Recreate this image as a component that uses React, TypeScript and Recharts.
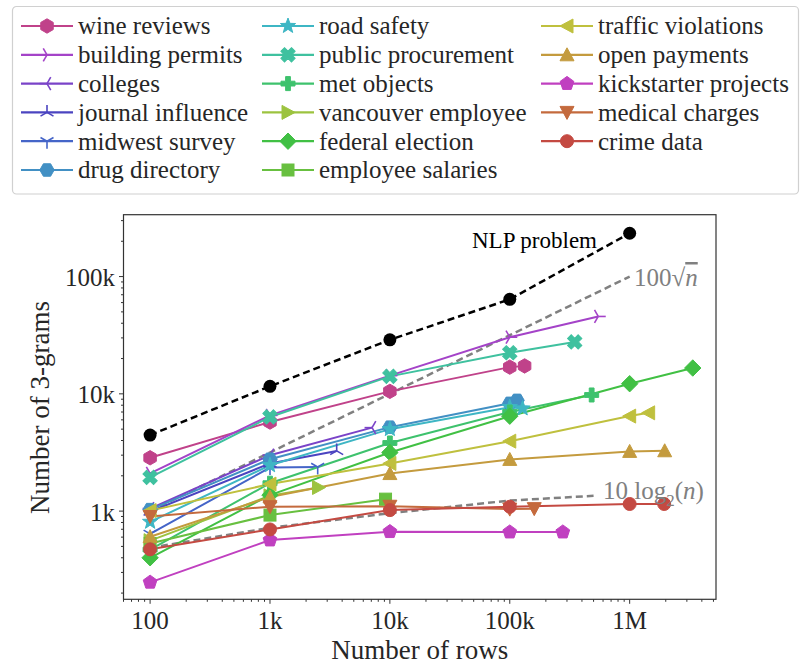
import { LineChart, Line, XAxis, YAxis } from "recharts";

type Pt = [number, number];

// --- data (rows, number of 3-grams) ---
const nlpProblem: Pt[] = [[100, 4450], [1000, 11600], [10000, 28900], [100000, 64000], [1000000, 234000]];
const sqrtGuide: Pt[] = [[100, 1000], [1000, 3160], [10000, 10000], [100000, 31600], [1000000, 100000]];
const logGuide: Pt[] = [[100, 487], [1000, 720], [10000, 960], [100000, 1230], [500000, 1350]];

const wineReviews: Pt[] = [[100, 2850], [1000, 5750], [10000, 10500], [100000, 16900], [133000, 17300]];
const buildingPermits: Pt[] = [[100, 2100], [1000, 6550], [10000, 14300], [100000, 30400], [547000, 45700]];
const colleges: Pt[] = [[100, 1050], [1000, 3000], [7100, 5150]];
const journalInfluence: Pt[] = [[100, 990], [1000, 2550], [3600, 3260]];
const midwestSurvey: Pt[] = [[100, 640], [1000, 2350], [2500, 2380]];
const drugDirectory: Pt[] = [[100, 1030], [1000, 2770], [10000, 5200], [100000, 8300], [115000, 8800]];
const roadSafety: Pt[] = [[100, 810], [1000, 2460], [10000, 5000], [100000, 7700], [128000, 7500]];
const publicProcurement: Pt[] = [[100, 1940], [1000, 6350], [10000, 14100], [100000, 22400], [348000, 27700]];
const metObjects: Pt[] = [[100, 470], [1000, 1730], [10000, 3810], [100000, 7000], [482000, 9780]];
const vancouverEmployee: Pt[] = [[100, 560], [1000, 1350], [2540, 1590]];
const federalElection: Pt[] = [[100, 400], [1000, 1370], [10000, 3160], [100000, 6450], [1000000, 12200], [3360000, 16600]];
const employeeSalaries: Pt[] = [[100, 530], [1000, 925], [9200, 1265]];
const trafficViolations: Pt[] = [[100, 1010], [1000, 1700], [10000, 2550], [100000, 3950], [1000000, 6460], [1440000, 6890]];
const openPayments: Pt[] = [[100, 605], [1000, 1320], [10000, 2090], [100000, 2760], [1000000, 3230], [1960000, 3270]];
const kickstarterProjects: Pt[] = [[100, 247], [1000, 566], [10000, 667], [100000, 662], [277000, 662]];
const medicalCharges: Pt[] = [[100, 900], [1000, 1090], [10000, 1100], [100000, 1040], [160000, 1050]];
const crimeData: Pt[] = [[100, 472], [1000, 698], [10000, 1020], [100000, 1090], [1000000, 1150], [1940000, 1150]];

const SERIES_NAMES = [
	"wine reviews", "building permits", "colleges", "journal influence", "midwest survey", "drug directory",
	"road safety", "public procurement", "met objects", "vancouver employee", "federal election", "employee salaries",
	"traffic violations", "open payments", "kickstarter projects", "medical charges", "crime data",
];
const SERIES_POINTS: Pt[][] = [
	wineReviews, buildingPermits, colleges, journalInfluence, midwestSurvey, drugDirectory,
	roadSafety, publicProcurement, metObjects, vancouverEmployee, federalElection, employeeSalaries,
	trafficViolations, openPayments, kickstarterProjects, medicalCharges, crimeData,
];

const ROW_TICKS = [100, 1000, 10000, 100000, 1000000];
const ROW_LABELS = ["100", "1k", "10k", "100k", "1M"];
const GRAM_TICKS = [1000, 10000, 100000];
const GRAM_LABELS = ["1k", "10k", "100k"];

// --- styles ---
const STYLE: Record<string, { color: string; marker: string }> = {
	"wine reviews": { color: "#c0428a", marker: "h" },
	"building permits": { color: "#a443c8", marker: "4" },
	colleges: { color: "#7a43c8", marker: "3" },
	"journal influence": { color: "#4b44c0", marker: "2" },
	"midwest survey": { color: "#4565c8", marker: "1" },
	"drug directory": { color: "#4290c4", marker: "H" },
	"road safety": { color: "#3eb6c4", marker: "*" },
	"public procurement": { color: "#3fc19f", marker: "X" },
	"met objects": { color: "#3ec26d", marker: "P" },
	"vancouver employee": { color: "#9cc33f", marker: ">" },
	"federal election": { color: "#41c044", marker: "D" },
	"employee salaries": { color: "#68c040", marker: "s" },
	"traffic violations": { color: "#bfc03e", marker: "<" },
	"open payments": { color: "#c49b3e", marker: "^" },
	"kickstarter projects": { color: "#c040c0", marker: "p" },
	"medical charges": { color: "#c46a3d", marker: "v" },
	"crime data": { color: "#c44a42", marker: "o" },
};

const W = 801;
const H = 666;
const PLOT = { left: 123.5, top: 214.7, right: 716, bottom: 599.3 };
const FONT = "'Liberation Serif', 'DejaVu Serif', serif";
const INK = "#262626";
const GUIDE = "#808080";

const minorTicks = (lo: number, hi: number) => {
	const out: number[] = [];
	for (let d = 10; d <= hi; d *= 10) {
		for (let m = 2; m <= 9; m++) {
			const v = m * d;
			if (v >= lo && v <= hi) out.push(v);
		}
	}
	return out;
};
const X_DOMAIN: [number, number] = [60, 5250000];
const Y_DOMAIN: [number, number] = [177, 337000];
const X_TICKS = [...ROW_TICKS, ...minorTicks(X_DOMAIN[0], X_DOMAIN[1])].sort((a, b) => a - b);
const Y_TICKS = [...GRAM_TICKS, ...minorTicks(Y_DOMAIN[0], Y_DOMAIN[1])].sort((a, b) => a - b);

const toRows = (pts: Pt[]) => pts.map(([x, y]) => ({ x, y }));

function polygon(cx: number, cy: number, r: number, n: number, start: number) {
	const pts: string[] = [];
	for (let k = 0; k < n; k++) {
		const a = ((start + (360 / n) * k) * Math.PI) / 180;
		pts.push(`${cx + r * Math.cos(a)},${cy + r * Math.sin(a)}`);
	}
	return pts.join(" ");
}

function plusPath(cx: number, cy: number, s: number, t: number) {
	const p = [
		[-t, -s], [t, -s], [t, -t], [s, -t], [s, t], [t, t],
		[t, s], [-t, s], [-t, t], [-s, t], [-s, -t], [-t, -t],
	];
	return p.map(([x, y]) => `${cx + x},${cy + y}`).join(" ");
}

function Marker({ shape, cx, cy, color }: { shape: string; cx: number; cy: number; color: string }) {
	if (cx == null || cy == null || Number.isNaN(cx) || Number.isNaN(cy)) return null;
	const f = { fill: color, stroke: color, strokeWidth: 1 };
	const tri = (dirs: number[]) => (
		<g stroke={color} strokeWidth={1.6}>
			{dirs.map((a) => (
				<line
					key={a}
					x1={cx}
					y1={cy}
					x2={cx + 7.5 * Math.cos((a * Math.PI) / 180)}
					y2={cy + 7.5 * Math.sin((a * Math.PI) / 180)}
				/>
			))}
		</g>
	);
	switch (shape) {
		case "o":
			return <circle cx={cx} cy={cy} r={6.5} {...f} />;
		case "h":
			return <polygon points={polygon(cx, cy, 7.2, 6, -90)} {...f} />;
		case "H":
			return <polygon points={polygon(cx, cy, 7.2, 6, 0)} {...f} />;
		case "p":
			return <polygon points={polygon(cx, cy, 7.2, 5, -90)} {...f} />;
		case "s":
			return <rect x={cx - 6} y={cy - 6} width={12} height={12} {...f} />;
		case "D":
			return <polygon points={polygon(cx, cy, 8.2, 4, -90)} {...f} />;
		case "^":
			return <polygon points={`${cx},${cy - 7} ${cx - 7},${cy + 6} ${cx + 7},${cy + 6}`} {...f} />;
		case "v":
			return <polygon points={`${cx},${cy + 7} ${cx - 7},${cy - 6} ${cx + 7},${cy - 6}`} {...f} />;
		case "<":
			return <polygon points={`${cx - 7},${cy} ${cx + 6},${cy - 7} ${cx + 6},${cy + 7}`} {...f} />;
		case ">":
			return <polygon points={`${cx + 7},${cy} ${cx - 6},${cy - 7} ${cx - 6},${cy + 7}`} {...f} />;
		case "*": {
			const pts: string[] = [];
			for (let k = 0; k < 10; k++) {
				const r = k % 2 === 0 ? 8 : 3.3;
				const a = ((-90 + 36 * k) * Math.PI) / 180;
				pts.push(`${cx + r * Math.cos(a)},${cy + r * Math.sin(a)}`);
			}
			return <polygon points={pts.join(" ")} {...f} />;
		}
		case "X":
			return <polygon points={plusPath(cx, cy, 7.5, 2.6)} transform={`rotate(45 ${cx} ${cy})`} {...f} />;
		case "P":
			return <polygon points={plusPath(cx, cy, 7, 2.4)} {...f} />;
		case "1":
			return tri([90, 210, 330]);
		case "2":
			return tri([270, 30, 150]);
		case "3":
			return tri([180, 300, 60]);
		case "4":
			return tri([0, 120, 240]);
		default:
			return null;
	}
}

const XTick = (props: any) => {
	const { x, y, payload } = props;
	const i = ROW_TICKS.indexOf(payload.value);
	return (
		<g>
			<line x1={x} x2={x} y1={y} y2={y + (i >= 0 ? 4.5 : 2.5)} stroke="#333" strokeWidth={1} />
			{i >= 0 && (
				<text x={x} y={y + 30} textAnchor="middle" fontSize={25} fill={INK} fontFamily={FONT}>
					{ROW_LABELS[i]}
				</text>
			)}
		</g>
	);
};

const YTick = (props: any) => {
	const { x, y, payload } = props;
	const i = GRAM_TICKS.indexOf(payload.value);
	return (
		<g>
			<line x1={x} x2={x - (i >= 0 ? 4.5 : 2.5)} y1={y} y2={y} stroke="#333" strokeWidth={1} />
			{i >= 0 && (
				<text x={x - 8.5} y={y + 9.5} textAnchor="end" fontSize={25} fill={INK} fontFamily={FONT}>
					{GRAM_LABELS[i]}
				</text>
			)}
		</g>
	);
};

const LEGEND_COL_X = [21, 262, 541];
const LEGEND_ROW_Y0 = 26;
const LEGEND_ROW_STEP = 28.8;

function LegendBox() {
	return (
		<g>
			<rect x={12.5} y={6.5} width={786} height={187.5} rx={4} fill="#fff" stroke="#d0d0d0" strokeWidth={1.2} />
			{SERIES_NAMES.map((name, i) => {
				const col = Math.floor(i / 6);
				const row = i % 6;
				const x = LEGEND_COL_X[col];
				const y = LEGEND_ROW_Y0 + row * LEGEND_ROW_STEP;
				const st = STYLE[name];
				return (
					<g key={name}>
						<line x1={x} x2={x + 52} y1={y} y2={y} stroke={st.color} strokeWidth={2.2} />
						<Marker shape={st.marker} cx={x + 26} cy={y} color={st.color} />
						<text x={x + 57} y={y + 8.3} fontSize={25} fill={INK} fontFamily={FONT}>
							{name}
						</text>
					</g>
				);
			})}
		</g>
	);
}

export default function App() {
	return (
		<div style={{ position: "fixed", left: 0, top: 0, width: W, height: H, background: "#fff" }}>
			<LineChart
				width={W}
				height={H}
				margin={{ top: PLOT.top, right: W - PLOT.right, bottom: 0, left: 0 }}
			>
				<XAxis
					type="number"
					dataKey="x"
					scale="log"
					domain={X_DOMAIN}
					allowDataOverflow
					ticks={X_TICKS}
					interval={0}
					tick={XTick}
					tickLine={false}
					axisLine={false}
					tickSize={0}
					tickMargin={0}
					height={H - PLOT.bottom}
				/>
				<YAxis
					type="number"
					dataKey="y"
					scale="log"
					domain={Y_DOMAIN}
					allowDataOverflow
					ticks={Y_TICKS}
					interval={0}
					tick={YTick}
					tickLine={false}
					axisLine={false}
					tickSize={0}
					tickMargin={0}
					width={PLOT.left}
				/>
				<Line
					data={toRows(sqrtGuide)}
					dataKey="y"
					stroke={GUIDE}
					strokeWidth={2.5}
					strokeDasharray="7 4"
					dot={false}
					activeDot={false}
					isAnimationActive={false}
				/>
				<Line
					data={toRows(logGuide)}
					dataKey="y"
					stroke={GUIDE}
					strokeWidth={2.5}
					strokeDasharray="7 4"
					dot={false}
					activeDot={false}
					isAnimationActive={false}
				/>
				{SERIES_NAMES.map((name, si) => {
					const st = STYLE[name];
					return (
						<Line
							key={name}
							name={name}
							data={toRows(SERIES_POINTS[si])}
							dataKey="y"
							stroke={st.color}
							strokeWidth={2}
							dot={(p: any) => (
								<Marker key={`${name}-${p.index}`} shape={st.marker} cx={p.cx} cy={p.cy} color={st.color} />
							)}
							activeDot={false}
							isAnimationActive={false}
						/>
					);
				})}
				<Line
					data={toRows(nlpProblem)}
					dataKey="y"
					stroke="#000"
					strokeWidth={2.5}
					strokeDasharray="7 4"
					dot={(p: any) => <circle key={`nlp-${p.index}`} cx={p.cx} cy={p.cy} r={6.5} fill="#000" />}
					activeDot={false}
					isAnimationActive={false}
				/>
			</LineChart>
			<svg
				width={W}
				height={H}
				style={{ position: "absolute", left: 0, top: 0, pointerEvents: "none" }}
			>
				<rect
					x={PLOT.left}
					y={PLOT.top}
					width={PLOT.right - PLOT.left}
					height={PLOT.bottom - PLOT.top}
					fill="none"
					stroke="#333"
					strokeWidth={1.2}
				/>
				<LegendBox />
				<text x={472} y={248} fontSize={23} fill="#000" fontFamily={FONT}>
					NLP problem
				</text>
				<text x={634} y={286} fontSize={25} fill={GUIDE} fontFamily={FONT}>
					100√
					<tspan fontStyle="italic" textDecoration="overline">n</tspan>
				</text>
				<text x={603} y={499} fontSize={25} fill={GUIDE} fontFamily={FONT}>
					10 log
					<tspan fontSize={17} dy={7}>2</tspan>
					<tspan dy={-7}>(</tspan>
					<tspan fontStyle="italic">n</tspan>)
				</text>
				<text
					x={(PLOT.left + PLOT.right) / 2}
					y={659}
					textAnchor="middle"
					fontSize={27}
					fill={INK}
					fontFamily={FONT}
				>
					Number of rows
				</text>
				<text
					x={49}
					y={407.5}
					textAnchor="middle"
					fontSize={27}
					fill={INK}
					fontFamily={FONT}
					transform="rotate(-90 49 407.5)"
				>
					Number of 3-grams
				</text>
			</svg>
		</div>
	);
}
